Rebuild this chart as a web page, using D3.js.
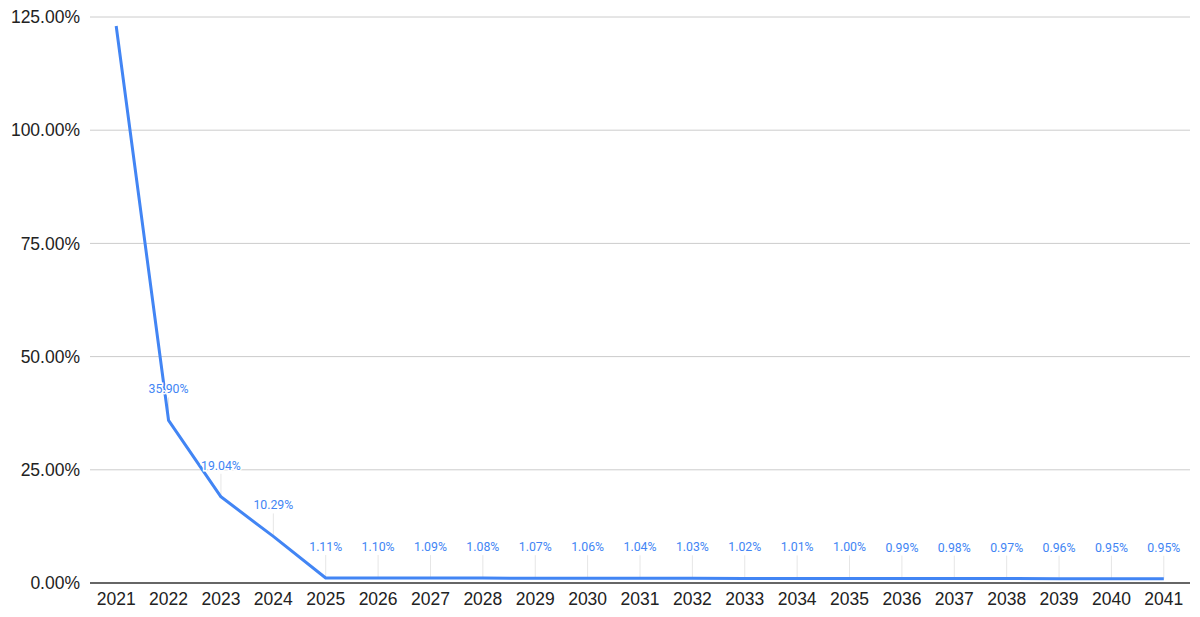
<!DOCTYPE html>
<html><head><meta charset="utf-8">
<script src="https://cdn.jsdelivr.net/npm/d3@7"></script>
<style>body{margin:0;background:#fff}svg{display:block}</style>
</head><body><svg id="c" width="1200" height="617"></svg>
<script>
const years = ["2021","2022","2023","2024","2025","2026","2027","2028","2029","2030","2031","2032","2033","2034","2035","2036","2037","2038","2039","2040","2041"];
const values = [123.0,35.90,19.04,10.29,1.11,1.10,1.09,1.08,1.07,1.06,1.04,1.03,1.02,1.01,1.00,0.99,0.98,0.97,0.96,0.95,0.95];
const showLabel = [false,true,true,true,true,true,true,true,true,true,true,true,true,true,true,true,true,true,true,true,true];
const yTicks = [0,25,50,75,100,125];

const svg = d3.select("#c");
const m = {l:90, r:10, t:17, b:34};
const W = 1200, H = 617;
const x = d3.scaleBand().domain(years).range([m.l, W - m.r]);
const y = d3.scaleLinear().domain([0,125]).range([H - m.b, m.t]);
const cx = d => x(d) + x.bandwidth()/2;
const axisFont = "Liberation Sans, Arial, sans-serif";

// gridlines
svg.append("g").selectAll("line").data(yTicks.filter(t=>t>0)).join("line")
  .attr("x1", m.l).attr("x2", W - m.r)
  .attr("y1", d=>y(d)).attr("y2", d=>y(d))
  .attr("stroke","#cccccc").attr("stroke-width",1);

// y axis labels
const yAxis = d3.axisLeft(y).tickValues(yTicks).tickSize(0).tickPadding(10).tickFormat(d=>d.toFixed(2)+"%");
const ga = svg.append("g").attr("transform",`translate(${m.l},0)`).call(yAxis);
ga.select(".domain").remove();
ga.selectAll("text").attr("font-family",axisFont).attr("font-size",17.5).attr("fill","#222");

// x axis labels
const xAxis = d3.axisBottom(x).tickSize(0).tickPadding(10);
const gx = svg.append("g").attr("transform",`translate(0,${y(0)})`).call(xAxis);
gx.select(".domain").remove();
gx.selectAll("text").attr("font-family",axisFont).attr("font-size",17.5).attr("fill","#222");

// leader lines
const pts = years.map((yr,i)=>({yr, v:values[i], show:showLabel[i]}));
svg.append("g").selectAll("line").data(pts.filter(p=>p.show)).join("line")
  .attr("x1", p=>cx(p.yr)).attr("x2", p=>cx(p.yr))
  .attr("y1", p=>y(p.v)).attr("y2", p=>y(p.v)-23)
  .attr("stroke","#e6e6e6").attr("stroke-width",1);

// baseline
svg.append("line").attr("x1",m.l).attr("x2",W-m.r).attr("y1",y(0)).attr("y2",y(0))
  .attr("stroke","#333").attr("stroke-width",1.5);

// line
svg.append("path").datum(pts)
  .attr("fill","none").attr("stroke","#4285f4").attr("stroke-width",3).attr("stroke-linejoin","round")
  .attr("d", d3.line().x(p=>cx(p.yr)).y(p=>y(p.v)));

// data labels
svg.append("g").selectAll("text").data(pts.filter(p=>p.show)).join("text")
  .attr("x", p=>cx(p.yr)).attr("y", p=>y(p.v)-31)
  .attr("text-anchor","middle").attr("dominant-baseline","central")
  .attr("font-family","Roboto, sans-serif").attr("font-size",12.3)
  .attr("fill","#4285f4")
  .attr("stroke","#fff").attr("stroke-width",3).attr("paint-order","stroke")
  .text(p=>p.v.toFixed(2)+"%");
</script></body></html>
